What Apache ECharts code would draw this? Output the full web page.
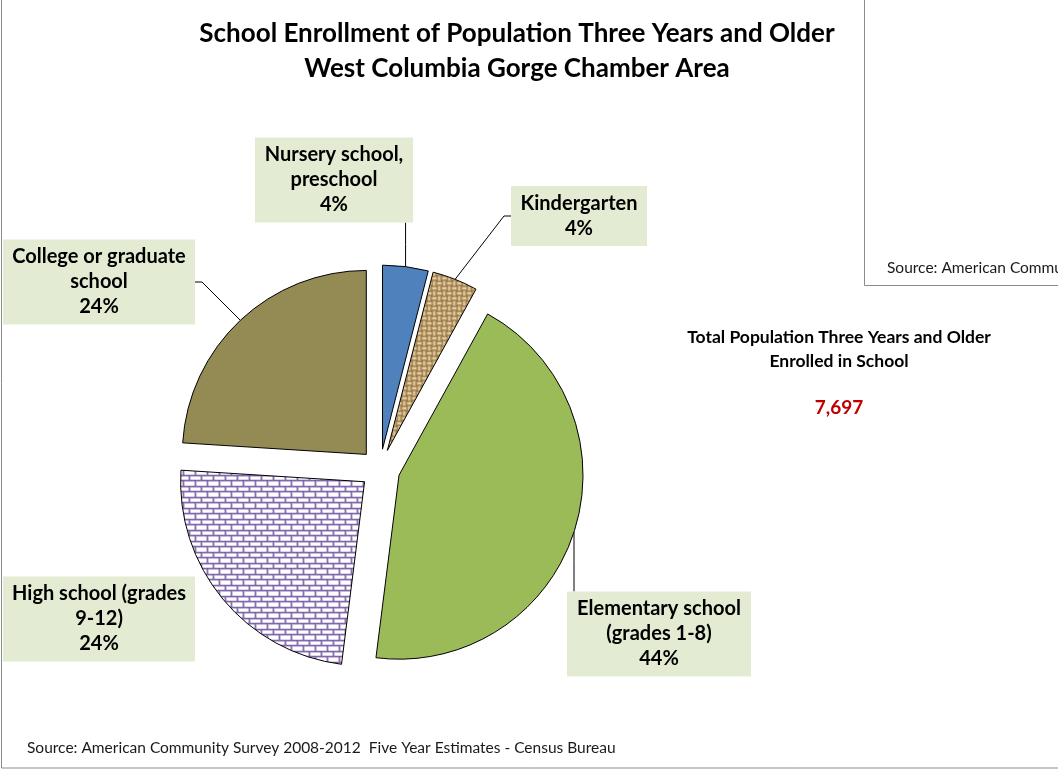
<!DOCTYPE html>
<html>
<head>
<meta charset="utf-8">
<script src="https://cdn.jsdelivr.net/npm/echarts@6/dist/echarts.min.js"></script>
<style>
html,body{margin:0;padding:0;background:#fff;}
#chart{width:1058px;height:769px;}
</style>
</head>
<body>
<div id="chart"></div>
<script>
// ---- data ----
const categories = ['Nursery school,\npreschool', 'Kindergarten', 'Elementary school\n(grades 1-8)', 'High school (grades\n9-12)', 'College or graduate\nschool'];
const percents = [4, 4, 44, 24, 24];
const totalEnrolled = 7697;
const titleLines = ['School Enrollment of Population Three Years and Older', 'West Columbia Gorge Chamber Area'];
const sideTitle = ['Total Population Three Years and Older', 'Enrolled in School'];
const sourceText = 'Source: American Community Survey 2008-2012  Five Year Estimates - Census Bureau';

// ---- patterns ----
function burlapPattern() {
  const c = document.createElement('canvas');
  c.width = 10; c.height = 10;
  const g = c.getContext('2d');
  g.fillStyle = '#ae8d5d'; g.fillRect(0, 0, 10, 10);
  g.fillStyle = '#f0e2bd';
  g.fillRect(0, 1, 4, 1); g.fillRect(5, 6, 4, 1);
  g.fillStyle = '#dcc493';
  g.fillRect(0, 2, 4, 1); g.fillRect(5, 7, 4, 1);
  g.fillStyle = '#eadab0';
  g.fillRect(6, 0, 1, 4); g.fillRect(1, 5, 1, 4);
  g.fillStyle = '#d2b985';
  g.fillRect(7, 0, 1, 4); g.fillRect(2, 5, 1, 4);
  g.fillStyle = '#6a5030';
  g.fillRect(4, 4, 1, 1); g.fillRect(9, 9, 1, 1); g.fillRect(4, 9, 1, 1); g.fillRect(9, 4, 1, 1);
  return c;
}
function brickPattern() {
  const c = document.createElement('canvas');
  c.width = 12; c.height = 11;
  const g = c.getContext('2d');
  g.fillStyle = '#ffffff'; g.fillRect(0, 0, 12, 11);
  g.fillStyle = '#b3a2cf';
  g.fillRect(0, 1, 12, 1);
  g.fillRect(0, 6, 12, 1);
  g.fillRect(1, 0, 1, 5);
  g.fillRect(7, 5, 1, 6);
  g.fillStyle = '#7257a0';
  g.fillRect(0, 0, 12, 1);
  g.fillRect(0, 5, 12, 1);
  g.fillRect(0, 0, 1, 5);
  g.fillRect(6, 5, 1, 6);
  return c;
}

const sliceFills = ['#4f81bd', {image: burlapPattern(), repeat: 'repeat'}, '#9bbb59', {image: brickPattern(), repeat: 'repeat'}, '#948a54'];
// label box placement: [center x, center y, text width, show leader line]
const labelBoxes = [
  [334, 180, 142, true],
  [579, 216, 120, true],
  [659, 634, 168, true],
  [99, 619, 176, false],
  [99, 282, 176, true]
];
const LABEL_PAD = [5, 8, 5, 8];
const STUB = 7;

const PIE_CENTER = [380, 469];
const PIE_RADIUS = 184;
const EXPLODE = 20;

const sliceData = categories.map((name, i) => ({
  name: name, value: percents[i], selected: true,
  itemStyle: {color: sliceFills[i]}
}));
const labelData = categories.map((name, i) => ({
  name: name, value: percents[i],
  labelLine: {show: labelBoxes[i][3]}
}));

// Excel-like leader line: from the library's anchor point to the label box
function leaderPoints(start, cx, cy, w, h) {
  const l = cx - w / 2, r = cx + w / 2, t = cy - h / 2, b = cy + h / 2;
  const sx = start[0], sy = start[1];
  if (sx >= l && sx <= r) {
    const ey = sy > b ? b : t;
    return [[sx, sy], [sx, (sy + ey) / 2], [sx, ey]];
  }
  const ex = sx > r ? r : l;
  const mx = sx > r ? r + STUB : l - STUB;
  return [[sx, sy], [mx, cy], [ex, cy]];
}

const chart = echarts.init(document.getElementById('chart'), null, {renderer: 'canvas'});
const FONT = 'Lato, "Liberation Sans", sans-serif';
chart.setOption({
  backgroundColor: '#ffffff',
  animation: false,
  title: [
    {
      text: titleLines.join('\n'),
      left: 512, top: 11, textAlign: 'center',
      textStyle: {fontFamily: FONT, fontWeight: 'bold', fontSize: 26, lineHeight: 35, color: '#000'}
    },
    {
      text: sideTitle.join('\n'),
      left: 834, top: 320, textAlign: 'center',
      textStyle: {fontFamily: FONT, fontWeight: 'bold', fontSize: 17.5, lineHeight: 24, color: '#000'}
    },
    {
      text: totalEnrolled.toLocaleString('en-US'),
      left: 834, top: 393, textAlign: 'center',
      textStyle: {fontFamily: FONT, fontWeight: 'bold', fontSize: 19, color: '#c00000'}
    },
    {
      text: sourceText,
      left: 22, top: 735,
      textStyle: {fontFamily: FONT, fontWeight: 'normal', fontSize: 15.5, color: '#1a1a1a'}
    }
  ],
  graphic: [
    {type: 'rect', z: -10, silent: true, shape: {x: 1.5, y: -1, width: 1070, height: 769}, style: {fill: null, stroke: '#8c8c8c', lineWidth: 1}},
    {type: 'rect', z: 10, silent: true, shape: {x: 864.5, y: -2, width: 210, height: 287.5}, style: {fill: '#ffffff', stroke: '#8c8c8c', lineWidth: 1}},
    {type: 'text', z: 11, silent: true, left: 887, top: 260, style: {text: 'Source: American Community Survey', font: '15.5px ' + FONT, fill: '#1a1a1a'}}
  ],
  series: [
    {
      type: 'pie',
      center: PIE_CENTER,
      radius: PIE_RADIUS,
      startAngle: 90,
      clockwise: true,
      selectedMode: 'multiple',
      selectedOffset: EXPLODE,
      emphasis: {disabled: true},
      itemStyle: {borderColor: '#000', borderWidth: 1},
      select: {itemStyle: {borderColor: '#000', borderWidth: 1}},
      label: {show: false},
      labelLine: {show: false},
      data: sliceData
    },
    {
      type: 'pie',
      silent: true,
      center: PIE_CENTER,
      radius: PIE_RADIUS + EXPLODE,
      startAngle: 90,
      clockwise: true,
      selectedMode: false,
      avoidLabelOverlap: false,
      emphasis: {disabled: true},
      itemStyle: {color: 'rgba(0,0,0,0)', borderWidth: 0},
      label: {
        show: true,
        position: 'outside',
        formatter: '{b}\n{c}%',
        fontFamily: FONT,
        fontWeight: 'bold',
        fontSize: 20,
        lineHeight: 25,
        color: '#000',
        backgroundColor: '#e3ebd3',
        padding: LABEL_PAD,
        align: 'center'
      },
      labelLine: {show: true, length: 10, length2: 10, lineStyle: {color: '#000', width: 1}},
      labelLayout: function (params) {
        const b = labelBoxes[params.dataIndex];
        const w = b[2] + LABEL_PAD[1] + LABEL_PAD[3];
        const h = params.labelRect.height;
        const out = {x: b[0], y: b[1], align: 'center', verticalAlign: 'middle', width: b[2]};
        if (params.labelLinePoints && params.labelLinePoints.length) {
          out.labelLinePoints = leaderPoints(params.labelLinePoints[0], b[0], b[1], w, h);
        }
        return out;
      },
      data: labelData
    }
  ]
});
</script>
</body>
</html>
